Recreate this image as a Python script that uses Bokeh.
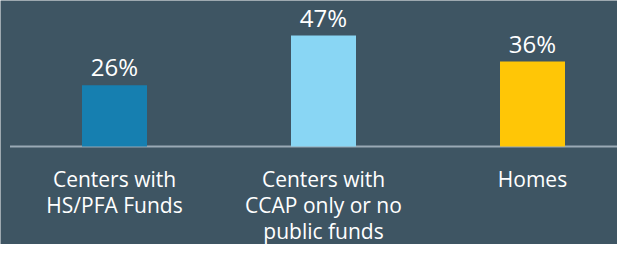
from bokeh.plotting import figure
from bokeh.models import Range1d, ColumnDataSource, LabelSet
from bokeh.core.properties import value
from bokeh.embed import file_html
from bokeh.resources import INLINE

categories = ["Centers with\nHS/PFA Funds", "Centers with\nCCAP only or no\npublic funds", "Homes"]
values = [26, 47, 36]
value_labels = ["26%", "47%", "36%"]
colors = ["#167fb0", "#89d6f4", "#ffc606"]

BG = "#3e5563"
FONT = "Open Sans"

W, H = 617, 244
px_per_unit_y = 2.36
base_px = 146
px_per_cat = 209
first_cat_px = 114
line_pitch = 26
first_line_off = 40

xs = list(range(len(categories)))
src = ColumnDataSource(dict(x=xs, top=values, color=colors, vlab=value_labels))

# one row per text line of the category labels
lx, ly, lt, loff = [], [], [], []
for i, c in enumerate(categories):
    for j, line in enumerate(c.split("\n")):
        lx.append(xs[i])
        ly.append(0)
        lt.append(line)
        loff.append(-(first_line_off + j * line_pitch))
lsrc = ColumnDataSource(dict(x=lx, y=ly, t=lt, off=loff))

p = figure(width=W, height=H, output_backend="svg", toolbar_location=None,
           x_range=Range1d(-first_cat_px / px_per_cat, (W - first_cat_px) / px_per_cat),
           y_range=Range1d(-(H - base_px) / px_per_unit_y, base_px / px_per_unit_y),
           min_border=0, min_border_left=0, min_border_right=0, min_border_top=0, min_border_bottom=0)
p.background_fill_color = BG
p.border_fill_color = BG
p.outline_line_color = None
p.xaxis.visible = False
p.yaxis.visible = False
p.xgrid.visible = False
p.ygrid.visible = False

# baseline: starts half a category before the first bar, runs off the right edge
p.segment(x0=[xs[0] - 0.5], y0=[0], x1=[xs[-1] + 0.5], y1=[0], line_color="#9aaab5", line_width=2)

p.vbar(x="x", top="top", bottom=0, width=65 / px_per_cat, color="color", line_color=None, source=src)

p.add_layout(LabelSet(x="x", y="top", text="vlab", source=src, text_align="center",
                      text_baseline="alphabetic", y_offset=9, text_color="#ffffff",
                      text_font=value(FONT), text_font_size="24px"))

p.add_layout(LabelSet(x="x", y="y", text="t", source=lsrc, text_align="center",
                      text_baseline="alphabetic", y_offset="off", text_color="#ffffff",
                      text_font=value(FONT), text_font_size="21px"))

open("out.html", "w").write(file_html(p, INLINE))
